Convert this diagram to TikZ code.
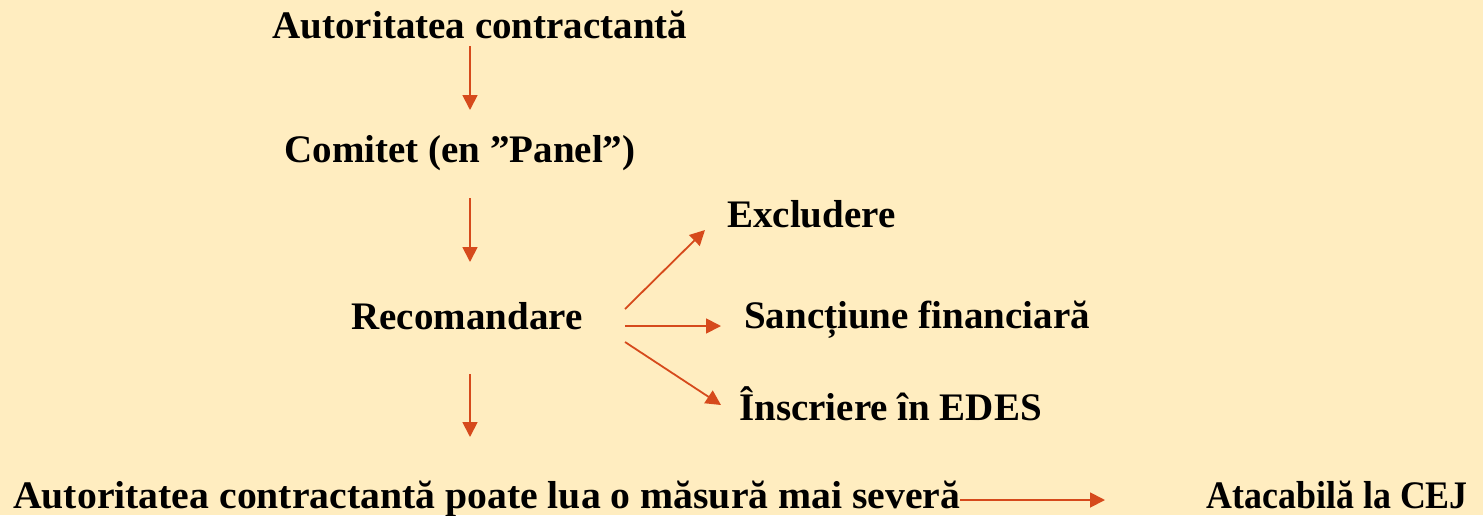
\documentclass[tikz,border=0pt]{standalone}
\usepackage{fontspec}
\setmainfont{Liberation Serif}
\usetikzlibrary{arrows.meta,calc}
\definecolor{bgcol}{RGB}{255,237,192}
\definecolor{arrcol}{RGB}{214,74,28}
\begin{document}
\begin{tikzpicture}[x=1pt,y=-1pt,
  lbl/.style={inner sep=0pt,font=\fontsize{39}{47}\selectfont\bfseries,text=black},
  arr/.style={draw=arrcol,line width=1.8pt,-{Triangle[length=15pt,width=15pt]}}]
\fill[bgcol] (0,0) rectangle (1483,515);
\useasboundingbox (0,0) rectangle (1483,515);
\node[lbl,anchor=base] (t1) at (480,38) {Autoritatea contractantă};
\node[lbl,anchor=base] (t2) at (460,162) {Comitet (en ”Panel”)};
\node[lbl,anchor=base] (t3) at (467,329) {Recomandare};
\node[lbl,anchor=base west] (ex) at (727,227) {Excludere};
\node[lbl,anchor=base west] (sf) at (744,328) {Sancțiune financiară};
\node[lbl,anchor=base west] (ed) at (739,420) {Înscriere în EDES};
\node[lbl,anchor=base west] (t4) at (13,508) {\scalebox{1.018}[1]{Autoritatea contractantă poate lua o măsură mai severă}};
\node[lbl,anchor=base east] (at) at (1468,508) {\scalebox{0.92}[1]{Atacabilă la CEJ}};
\draw[arr] ($(t1.base)+(-10,8)$) -- ($(t2.base)+(10,-52)$);
\draw[arr] ($(t2.base)+(10,36)$) -- ($(t3.base)+(3,-67)$);
\draw[arr] ($(t3.base)+(3,45)$) -- ($(t4.base west)+(457,-71)$);
\draw[arr] ($(t3.base)+(158,-20)$) -- ($(ex.base west)+(-22,3)$);
\draw[arr] ($(t3.base)+(158,-3)$) -- ($(sf.base west)+(-23,-2)$);
\draw[arr] ($(t3.base)+(158,13)$) -- ($(ed.base west)+(-18,-15)$);
\draw[arr] ($(t4.base west)+(947,-8)$) -- ($(at.base east)+(-363,-8)$);
\end{tikzpicture}
\end{document}
